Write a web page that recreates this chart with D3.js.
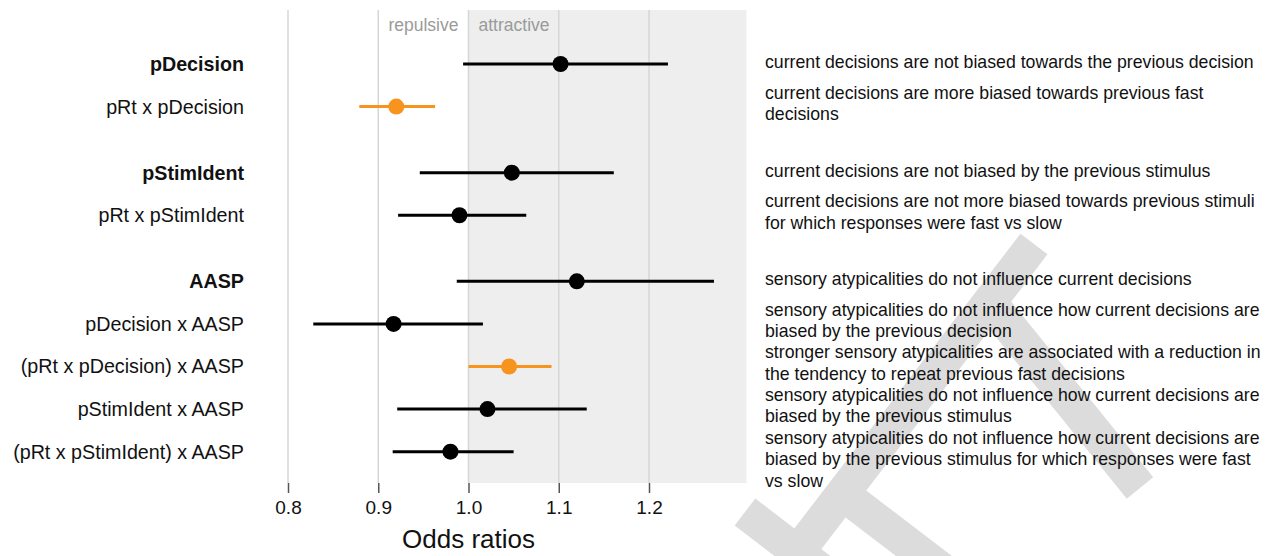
<!DOCTYPE html>
<html>
<head>
<meta charset="utf-8">
<script src="https://cdn.jsdelivr.net/npm/d3@7"></script>
<style>
  html, body { margin: 0; padding: 0; background: #ffffff; }
  svg { display: block; font-family: "Liberation Sans", Arial, Helvetica, sans-serif; }
</style>
</head>
<body>
<div id="chart"></div>
<script>
// ---------------- data ----------------
const categories = [
  "pDecision",
  "pRt x pDecision",
  "pStimIdent",
  "pRt x pStimIdent",
  "AASP",
  "pDecision x AASP",
  "(pRt x pDecision) x AASP",
  "pStimIdent x AASP",
  "(pRt x pStimIdent) x AASP"
];
const isMainEffect = [true, false, true, false, true, false, false, false, false];
const groupIndex   = [0, 0, 1, 1, 2, 2, 2, 2, 2];
const estimates    = [1.102, 0.920, 1.048, 0.990, 1.120, 0.917, 1.045, 1.021, 0.980];
const ciLow        = [0.994, 0.879, 0.946, 0.922, 0.987, 0.828, 1.000, 0.921, 0.916];
const ciHigh       = [1.221, 0.963, 1.161, 1.064, 1.272, 1.016, 1.092, 1.131, 1.050];
const significant  = [false, true, false, false, false, false, true, false, false];
const descriptions = [
  ["current decisions are not biased towards the previous decision"],
  ["current decisions are more biased towards previous fast", "decisions"],
  ["current decisions are not biased by the previous stimulus"],
  ["current decisions are not more biased towards previous stimuli", "for which responses were fast vs slow"],
  ["sensory atypicalities do not influence current decisions"],
  ["sensory atypicalities do not influence how current decisions are", "biased by the previous decision"],
  ["stronger sensory atypicalities are associated with a reduction in", "the tendency to repeat previous fast decisions"],
  ["sensory atypicalities do not influence how current decisions are", "biased by the previous stimulus"],
  ["sensory atypicalities do not influence how current decisions are", "biased by the previous stimulus for which responses were fast", "vs slow"]
];
const xTicks = [0.8, 0.9, 1.0, 1.1, 1.2];
const xLimits = [0.8, 1.308];
const regionLabels = ["repulsive", "attractive"];
const nullValue = 1.0;
const xTitle = "Odds ratios";

// ---------------- layout ----------------
const W = 1269, H = 556;
const panelTop = 10, panelBottom = 483;
const groupGap = 0.55;

const svg = d3.select("#chart").append("svg")
  .attr("width", W).attr("height", H);

// watermark (decorative)
const wm = svg.append("g").attr("stroke", "#dcdcdc").attr("stroke-width", 34).attr("fill", "none");
[[1034, 244, 790, 562], [988, 300, 1140, 488], [848, 498, 962, 585], [745, 512, 822, 571]].forEach(s => {
  wm.append("line").attr("x1", s[0]).attr("y1", s[1]).attr("x2", s[2]).attr("y2", s[3]);
});

const x = d3.scaleLinear().domain([0.8, 1.2]).range([288, 649]);
const pos = categories.map((c, i) => i + groupIndex[i] * groupGap);
const y = d3.scaleLinear().domain([0, d3.max(pos)]).range([64, 451.7]);

const panelRight = x(xLimits[1]);

// shaded "attractive" region
svg.append("rect")
  .attr("x", x(nullValue)).attr("y", panelTop)
  .attr("width", panelRight - x(nullValue)).attr("height", panelBottom - panelTop)
  .attr("fill", "#eeeeee");

// gridlines
svg.append("g").selectAll("line").data(xTicks).join("line")
  .attr("x1", d => x(d)).attr("x2", d => x(d))
  .attr("y1", panelTop).attr("y2", panelBottom)
  .attr("stroke", "#d6d6d6").attr("stroke-width", 1.5);

// axis
const axis = d3.axisBottom(x).tickValues(xTicks).tickFormat(d3.format(".1f")).tickSize(10).tickPadding(8);
const ax = svg.append("g").attr("transform", `translate(0,${panelBottom})`).call(axis);
ax.select(".domain").remove();
ax.selectAll(".tick line").attr("stroke", "#555").attr("stroke-width", 1.5);
ax.selectAll(".tick text").attr("font-size", 19).attr("fill", "#111")
  .attr("font-family", "Liberation Sans, Arial, sans-serif");

svg.append("text")
  .attr("x", x(1.0)).attr("y", 548)
  .attr("text-anchor", "middle").attr("font-size", 26).attr("fill", "#111")
  .text(xTitle);

// region labels
svg.append("text").attr("x", x(nullValue) - 10).attr("y", 31)
  .attr("text-anchor", "end").attr("font-size", 17.5).attr("fill", "#9a9a9a").text(regionLabels[0]);
svg.append("text").attr("x", x(nullValue) + 10).attr("y", 31)
  .attr("text-anchor", "start").attr("font-size", 17.5).attr("fill", "#9a9a9a").text(regionLabels[1]);

// estimates
const rows = categories.map((c, i) => ({
  c, i, est: estimates[i], lo: ciLow[i], hi: ciHigh[i], sig: significant[i],
  main: isMainEffect[i], desc: descriptions[i], yy: y(pos[i])
}));
const colorOf = d => d.sig ? "#f7941d" : "#000000";

svg.append("g").selectAll("line").data(rows).join("line")
  .attr("x1", d => x(d.lo)).attr("x2", d => x(d.hi))
  .attr("y1", d => d.yy).attr("y2", d => d.yy)
  .attr("stroke", colorOf).attr("stroke-width", 3);

svg.append("g").selectAll("circle").data(rows).join("circle")
  .attr("cx", d => x(d.est)).attr("cy", d => d.yy).attr("r", 8)
  .attr("fill", colorOf);

// left labels
svg.append("g").selectAll("text").data(rows).join("text")
  .attr("x", 244).attr("y", d => d.yy + 7)
  .attr("text-anchor", "end").attr("font-size", 19.7)
  .attr("font-weight", d => d.main ? "bold" : "normal")
  .attr("fill", "#111")
  .text(d => d.c);

// right descriptions
const dg = svg.append("g");
rows.forEach(d => {
  const first = d.yy + 4 - (d.desc.length > 1 ? 12 : 0);
  const t = dg.append("text").attr("x", 765).attr("font-size", 17.7).attr("fill", "#111");
  d.desc.forEach((line, k) => {
    t.append("tspan").attr("x", 765).attr("y", first + k * 21.4).text(line);
  });
});
</script>
</body>
</html>
